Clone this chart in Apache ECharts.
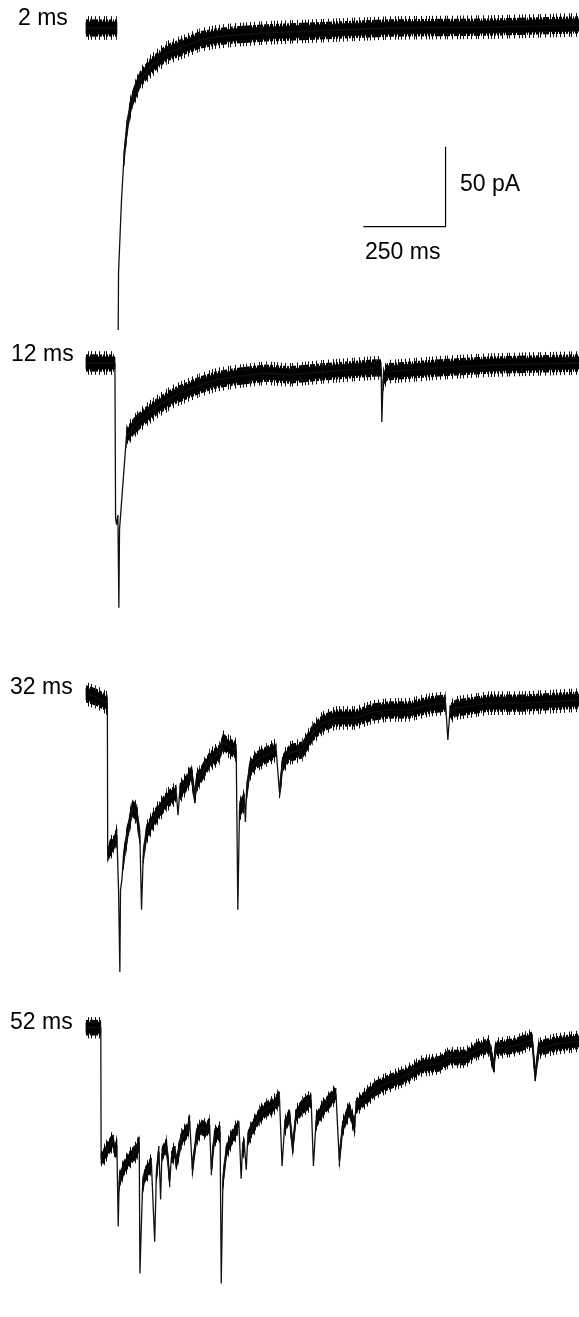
<!DOCTYPE html>
<html>
<head>
<meta charset="utf-8">
<script src="https://cdn.jsdelivr.net/npm/echarts@6/dist/echarts.min.js"></script>
<style>
  html, body { margin: 0; padding: 0; background: #fff; }
  #traces { width: 579px; height: 1317px; }
</style>
</head>
<body>
<div id="traces"></div>
<script>
// pulse duration of each recording
const pulseLabels = ['2 ms', '12 ms', '32 ms', '52 ms'];

// time (ms) / current (pA, 0 = holding level); null = blanked stimulus artifact
const time2ms = [0, 94, 95, 98, 99, 108, 115, 123, 133.5, 143.5, 164, 194, 245, 294, 346, 396.5, 446, 548, 619, 922, 1226, 1500];
const current2ms = [0, 0, null, -188.8, -153, -107.5, -82.5, -65.6, -51, -43, -32.5, -24.4, -15.6, -11.9, -7.5, -5.6, -4.4, -3.1, -2.5, 0, 0.6, 1.9];

const time12ms = [0, 88, 90, 93, 97, 100, 102, 123, 143.5, 174, 214.5, 264, 346, 396.5, 446, 497.6, 548, 619, 719, 883, 898, 900, 904, 916, 1074, 1226, 1500];
const current12ms = [0, 0, -97, -101, -95, -153, -104, -46, -40, -34, -27.5, -21, -13.8, -10.6, -8.8, -7.5, -6.3, -7.5, -5.6, -3.1, -3.1, -36.9, -10.6, -5.6, -3.1, -1.3, 0];

const time32ms = [0, 30, 52, 65, 66, 73, 83, 94, 99, 103, 105, 109, 113, 118, 128, 141, 154, 164, 169, 174,
  184, 204, 224.5, 245, 275, 280, 285, 305.5, 320.5, 331, 337, 346, 376, 406.6, 416.6, 437, 457, 462, 467, 482,
  485, 488, 497.6, 518, 548, 578.6, 588.6, 598.6, 619, 659, 689.6, 720, 760.6, 821, 871.7, 922, 983, 1044, 1094, 1101,
  1107, 1125, 1226, 1327, 1500];
const current32ms = [1.9, 0, -2.5, -3.8, -98.8, -94.4, -92.5, -86.3, -120.6, -171.9, -120.6, -114.4, -103.8, -95.6, -83.1, -69.4, -72.5, -87.5, -133, -100,
  -85, -76.9, -70.6, -64.4, -60, -73.8, -59.4, -53.8, -47.5, -62.5, -51.9, -50, -39.4, -35, -28.1, -31.3, -33.1, -133, -70.6, -64.4,
  -78.1, -61.3, -45.6, -39.4, -36.3, -33.1, -59.4, -41.3, -35, -33.1, -22.5, -16.3, -13.1, -13.1, -9.4, -8.1, -8.1, -5, -3.8, -26.9,
  -9.4, -6.9, -3.8, -3.8, -1.9];

const time52ms = [0, 45, 46, 52, 64, 82, 88, 94, 98, 101, 113, 128, 143.5, 154, 162, 164, 172, 179, 189, 199,
  209, 214, 222, 227, 231, 245, 255, 260, 270, 275, 290, 310, 315.5, 323.5, 336, 351, 366, 376, 381, 391,
  408, 411.5, 416.5, 427, 442, 462, 465, 472, 476, 482, 487.6, 492, 507.6, 528, 548, 568, 583.5, 588.6, 596.6, 604,
  619, 629, 639, 659, 685, 692, 700, 720, 750, 760.6, 770.6, 780.6, 801, 818, 821, 851.6, 882, 922, 973, 1023,
  1074, 1104, 1155, 1185, 1226, 1241, 1246, 1307, 1357, 1367, 1377, 1428, 1500];
const current52ms = [0, 0, -90.6, -89.4, -84.4, -78.1, -85.6, -81.3, -137.5, -106.3, -98.1, -91.9, -87.5, -85.6, -79.4, -170, -110.6, -101.9, -98.1, -93.8,
  -148, -101.9, -85.6, -118.8, -87.5, -81.3, -106.3, -89.4, -85.6, -93.8, -76.9, -70.6, -64.4, -98.1, -75, -68.8, -70.6, -66.9, -98.1, -75,
  -71.9, -176.9, -106.3, -85.6, -76.9, -68.8, -64.4, -104.4, -84.4, -81.3, -98.1, -76.9, -68.8, -60.6, -56.3, -54.4, -50, -48.1, -95.6, -68.8,
  -60.6, -83.1, -60.6, -54.4, -50, -95.6, -64.4, -56.3, -48.1, -45.6, -91.9, -68.8, -56.3, -68.8, -54.4, -48.1, -41.9, -37.5, -33.1, -26.3,
  -25, -20.6, -20.6, -15.6, -12.5, -26.9, -14.4, -12.5, -8.1, -33.1, -14.4, -11.3, -9.4];

// scale bar
const scaleBarTime = 250;   // ms
const scaleBarCurrent = 50; // pA

const traces = [
  { time: time2ms, current: current2ms },
  { time: time12ms, current: current12ms },
  { time: time32ms, current: current32ms },
  { time: time52ms, current: current52ms }
];

// layout: 0.3296 px per ms, 1.6 px per pA, holding level of each trace in px
const pxPerMs = 0.3296, pxPerPA = 1.6;
const baselineY = [28, 363, 697, 1030];
const labelY = [19, 355, 688, 1023];
const labelX = [18, 11, 10, 10];
const yMin = -200, yMax = 15, xMax = 1500;
const barCorner = [844, -124.2];
const noiseHalf = 3.8;   // pA, half height of the dense noise band
const fringeInner = 1.6; // pA of dense spikes beyond the band
const fringeOuter = 3.6; // pA of sparse spikes beyond the band

// slow parts of the trace carry the recording noise, fast transients are thin
function isQuiet(t0, c0, t1, c1) {
  const dt = t1 - t0;
  return dt >= 5 && Math.abs((c1 - c0) / dt) < 2.6;
}

function quietSegments(time, current) {
  const out = [];
  for (let i = 0; i < time.length - 1; i++) {
    const c0 = current[i], c1 = current[i + 1];
    if (c0 === null || c1 === null) continue;
    if (isQuiet(time[i], c0, time[i + 1], c1)) out.push([time[i], c0, time[i + 1], c1]);
  }
  return out;
}

// vertical hairline textures for the ragged edge of the noise band
function stripes(period, cols, color) {
  const cv = document.createElement('canvas');
  cv.width = period; cv.height = 1;
  const ctx = cv.getContext('2d');
  ctx.fillStyle = color;
  cols.forEach((x) => ctx.fillRect(x, 0, 1, 1));
  return { image: cv, repeat: 'repeat' };
}
const denseFill = stripes(23, [0, 1, 2, 4, 5, 7, 8, 9, 11, 12, 14, 15, 17, 18, 19, 21], '#000');
const sparseFill = stripes(31, [2, 6, 11, 13, 18, 23, 26, 29], '#111');

function strip(api, t0, c0, t1, c1, from, to, fill) {
  return {
    type: 'polygon',
    shape: { points: [
      api.coord([t0, c0 + from]), api.coord([t1, c1 + from]),
      api.coord([t1, c1 + to]), api.coord([t0, c0 + to])
    ] },
    style: { fill: fill }
  };
}

function renderBand(params, api) {
  const t0 = api.value(0), c0 = api.value(1), t1 = api.value(2), c1 = api.value(3);
  const h = noiseHalf, fi = h + fringeInner, fo = h + fringeOuter;
  return {
    type: 'group',
    children: [
      strip(api, t0, c0, t1, c1, h, fo, sparseFill),
      strip(api, t0, c0, t1, c1, -fo, -h, sparseFill),
      strip(api, t0, c0, t1, c1, h - 0.2, fi, denseFill),
      strip(api, t0, c0, t1, c1, -fi, -h + 0.2, denseFill),
      {
        type: 'polygon',
        shape: { points: [
          api.coord([t0, c0 + h]), api.coord([t1, c1 + h]),
          api.coord([t1, c1 - h]), api.coord([t0, c0 - h])
        ] },
        style: { fill: '#000', stroke: '#000', lineWidth: 0.8 }
      }
    ]
  };
}

const grid = [], xAxis = [], yAxis = [], series = [];
traces.forEach((tr, k) => {
  grid.push({
    left: 86,
    top: baselineY[k] - yMax * pxPerPA,
    width: xMax * pxPerMs,
    height: (yMax - yMin) * pxPerPA
  });
  xAxis.push({ type: 'value', gridIndex: k, min: 0, max: xMax, show: false });
  yAxis.push({ type: 'value', gridIndex: k, min: yMin, max: yMax, show: false });

  series.push({
    type: 'custom', xAxisIndex: k, yAxisIndex: k, silent: true,
    data: quietSegments(tr.time, tr.current),
    encode: { x: [0, 2], y: [1, 3] },
    renderItem: renderBand
  });
  series.push({
    type: 'line', xAxisIndex: k, yAxisIndex: k,
    data: tr.time.map((t, i) => [t, tr.current[i] === null ? '-' : tr.current[i]]),
    symbol: 'none', silent: true,
    lineStyle: { color: '#111', width: 1.3 }
  });
});

series.push({
  type: 'line', xAxisIndex: 0, yAxisIndex: 0, symbol: 'none', silent: true,
  data: [
    [barCorner[0], barCorner[1]],
    [barCorner[0] + scaleBarTime, barCorner[1]],
    [barCorner[0] + scaleBarTime, barCorner[1] + scaleBarCurrent]
  ],
  lineStyle: { color: '#000', width: 1.2 }
});

const font = '"Liberation Sans", Arial, sans-serif';
const graphic = pulseLabels.map((txt, k) => ({
  type: 'text', left: labelX[k], top: labelY[k] - 12,
  style: { text: txt, font: '23px ' + font, fill: '#000' }
}));
graphic.push({
  type: 'text', left: 460, top: 185 - 12,
  style: { text: scaleBarCurrent + ' pA', font: '23px ' + font, fill: '#000' }
});
graphic.push({
  type: 'text', left: 365, top: 253 - 12,
  style: { text: scaleBarTime + ' ms', font: '23px ' + font, fill: '#000' }
});

const myChart = echarts.init(document.getElementById('traces'));
myChart.setOption({
  animation: false,
  backgroundColor: '#fff',
  grid: grid,
  xAxis: xAxis,
  yAxis: yAxis,
  series: series,
  graphic: graphic
});
</script>
</body>
</html>
